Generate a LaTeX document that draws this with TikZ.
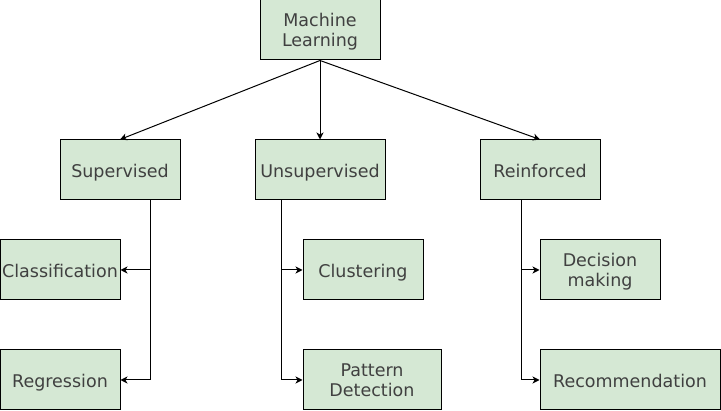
\documentclass[tikz,border=0pt]{standalone}
\usepackage{fontspec}
\setmainfont{DejaVu Sans}
\usetikzlibrary{arrows.meta}
\definecolor{Leaf}{HTML}{D5E8D4}
\definecolor{Ink}{HTML}{404040}

\begin{document}
\begin{tikzpicture}[x=1pt,y=-1pt,
  box/.style={draw=black,line width=1pt,fill=Leaf,text=Ink,align=center,
    minimum width=120pt,minimum height=60pt,inner sep=0pt,
    font=\fontsize{17.5}{20.5}\selectfont},
  onebox/.style={box,text height=19pt,text depth=3pt},
  twobox/.style={box,text depth=-4pt},
  arrow/.style={-{Stealth[length=7pt,width=7pt,inset=2pt]},line width=1pt,draw=black}]
\useasboundingbox (0,0) rectangle (721,411);
\node[twobox](ml) at (320,30) {Machine\\Learning};
\node[onebox](sup) at (120,170) {Supervised};
\node[onebox,minimum width=130pt](uns) at (320,170) {Unsupervised};
\node[onebox](rei) at (540,170) {Reinforced};
\node[onebox](cls) at (60,270) {Classification};
\node[onebox](reg) at (60,380) {Regression};
\node[onebox](clu) at (363,270) {Clustering};
\node[twobox,minimum width=138pt](pat) at (372,380) {Pattern\\Detection};
\node[twobox](dec) at (600,270) {Decision\\making};
\node[onebox,minimum width=180pt](rec) at (630,380) {Recommendation};
\draw[arrow](ml.south)--(sup.north);\draw[arrow](ml.south)--(uns.north);\draw[arrow](ml.south)--(rei.north);
\draw[arrow]([xshift=30pt]sup.south)|-(cls.east);\draw[arrow]([xshift=30pt]sup.south)|-(reg.east);
\draw[arrow]([xshift=-39pt]uns.south)|-(clu.west);\draw[arrow]([xshift=-39pt]uns.south)|-(pat.west);
\draw[arrow]([xshift=-19pt]rei.south)|-(dec.west);\draw[arrow]([xshift=-19pt]rei.south)|-(rec.west);
\end{tikzpicture}
\end{document}
